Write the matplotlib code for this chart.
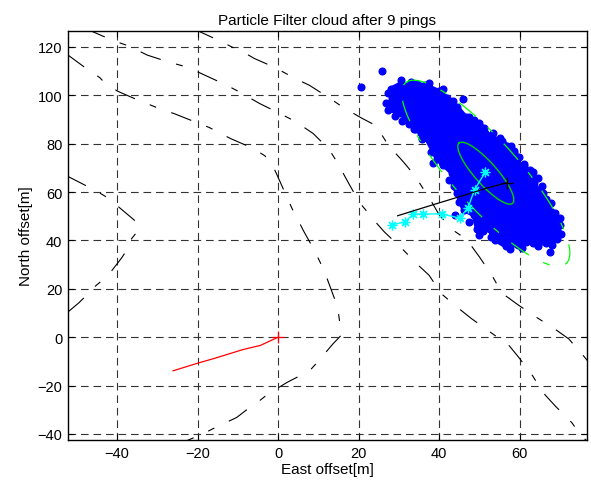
import matplotlib
matplotlib.use('Agg')
import matplotlib.pyplot as plt
import numpy as np

plt.rcParams['font.family'] = ['Liberation Sans', 'DejaVu Sans']
plt.rcParams['lines.scale_dashes'] = False

# terrain contours (east, north) [m]
c1_x = [-48.0, -46.5, -41.4, -37.7, -36.0, -32.5, -27.3, -23.6, -21.7, -18.2, -13.1, -9.5, -8.2,
        -4.6, 0.4, 3.9, 5.5, 8.7, 12.6, 14.8, 15.6, 17.5, 20.2, 22.8, 23.9, 26.4, 30.6, 33.4,
        34.6, 37.5, 40.6, 43.7, 45.0, 48.1, 52.7, 55.9, 57.4, 59.9, 63.2, 65.3, 66.4, 69.0,
        73.0, 75.3, 77.0]
c1_y = [127.5, 126.6, 122.9, 120.7, 119.5, 116.6, 113.8, 112.1, 111.0, 108.3, 104.4, 101.3, 100.0,
        96.6, 92.5, 89.5, 87.8, 84.2, 77.8, 72.0, 69.5, 63.7, 55.7, 50.5, 48.2, 43.5, 36.9, 32.2,
        30.1, 25.6, 17.9, 13.5, 11.7, 7.6, 2.1, -1.7, -3.5, -8.6, -15.9, -21.5, -24.0, -28.7,
        -35.4, -40.8, -43.3]

c2_x = [-52.5, -47.6, -44.3, -43.1, -39.9, -34.8, -31.0, -29.4, -25.8, -20.5, -17.0, -15.3, -11.8,
        -8.5, -6.5, -3.4, -1.9, -0.3, 2.0, 3.6, 4.5, 6.3, 9.0, 10.7, 11.5, 12.8, 14.8, 15.3,
        16.0, 15.8, 13.6, 10.1, 7.6, 5.7, 2.2, -2.6, -5.7, -7.1, -10.3, -15.3, -19.0, -19.9,
        -23.0]
c2_y = [117.0, 111.0, 107.3, 105.2, 101.7, 98.0, 95.5, 94.4, 92.4, 88.9, 86.6, 85.1, 82.1,
        79.7, 78.3, 75.1, 73.0, 67.2, 58.6, 52.7, 49.9, 44.0, 35.9, 30.1, 27.2, 21.4, 12.4, 6.2,
        3.4, 1.0, -2.8, -9.7, -14.3, -15.7, -18.7, -23.6, -27.7, -29.1, -33.2, -37.1, -40.2, -40.8,
        -43.0]

c3_x = [-52.5, -47.1, -43.9, -42.2, -39.3, -34.8, -34.6, -36.4, -36.8, -38.9, -42.2, -45.4, -46.8,
        -49.5, -52.5]
c3_y = [66.7, 62.1, 59.2, 57.5, 53.4, 47.1, 44.5, 40.7, 38.0, 32.7, 25.6, 21.1, 18.6,
        14.2, 10.0]

c4_x = [-21.0, -19.9, -14.5, -10.7, -8.7, -5.9, -0.7, 2.6, 4.3, 7.8, 12.6, 15.9, 17.3, 20.6, 24.6,
        25.2, 27.3, 28.3, 31.0, 34.1, 36.7, 37.6, 40.0, 43.3, 46.6, 47.6, 50.0, 53.1, 55.1, 56.2,
        59.5, 64.1, 67.4, 68.9, 72.2, 75.7, 77.0]
c4_y = [127.5, 126.6, 122.5, 119.3, 117.9, 115.2, 111.4, 108.4, 106.9, 104.1, 99.0, 95.3, 93.9,
        90.7, 87.2, 85.1, 79.6, 77.6, 72.7, 66.5, 59.6, 57.5, 50.6, 44.4, 40.7, 38.7, 33.2, 25.6,
        19.7, 17.5, 13.5, 8.3, 4.8, 3.2, -0.7, -7.4, -10.0]

contours = [(c1_x, c1_y), (c2_x, c2_y), (c3_x, c3_y), (c4_x, c4_y)]

# particle cloud: outline of the dense core, particles on its rim and strays
core_x = [28.1, 30.5, 32.1, 34.5, 36.6, 39.9, 42.0, 44.5, 46.6, 48.6, 51.1, 52.4, 55.7, 56.9,
          59.2, 60.5, 63.4, 63.6, 64.8, 66.6, 66.9, 68.8, 69.2, 69.2, 66.5, 63.2, 61.6, 59.7,
          56.6, 54.0, 52.8, 49.5, 48.6, 46.1, 44.5, 43.7, 43.2, 39.5, 36.6, 34.1, 30.4, 27.3,
          28.3]
core_y = [102.7, 104.8, 103.8, 104.5, 104.1, 101.7, 99.0, 95.0, 91.0, 89.8, 86.6, 83.1, 81.0, 79.2,
          73.0, 69.0, 68.3, 63.7, 60.2, 57.1, 54.0, 51.3, 44.4, 40.4, 38.9, 38.9, 39.4, 38.2,
          37.6, 40.2, 44.2, 44.6, 50.6, 52.7, 59.6, 62.3, 67.9, 73.7, 83.1, 85.9, 92.8, 94.1,
          99.0]
rim_x = [33.0, 37.5, 41.0, 43.5, 47.5, 50.0, 53.5, 57.8, 58.5, 61.0, 62.5, 65.5, 67.8, 70.0,
         70.2, 68.0, 64.5, 60.5, 57.5, 53.0, 51.0, 47.5, 45.0, 42.5, 41.0, 38.0, 35.8, 32.5,
         29.0, 26.8, 27.3, 29.5, 35.5, 40.5, 49.5, 55.0, 59.8, 65.8, 44.0, 38.5]
rim_y = [105.6, 105.2, 102.6, 97.6, 91.2, 88.6, 84.2, 79.1, 76.0, 70.6, 69.1, 62.6, 55.6, 49.1,
         42.6, 38.2, 37.8, 36.9, 36.4, 41.6, 44.0, 47.6, 56.0, 65.0, 71.0, 76.6, 81.8, 88.0,
         91.6, 96.8, 101.0, 95.5, 84.5, 78.5, 86.0, 82.5, 74.5, 59.5, 50.5, 72.0]
stray_x = [25.9, 20.6, 45.9, 30.5, 67.5, 28.6, 30.8, 33.7, 50.0, 55.8, 70.0, 58.5, 61.2, 64.6]
stray_y = [110.0, 103.4, 98.3, 106.3, 35.2, 99.0, 89.3, 85.9, 42.2, 40.7, 46.5, 77.0, 71.5, 66.0]

# 1-sigma ellipse of the cloud (centre and conjugate half axes)
ell_c = (51.6, 67.8)
ell_a = (-6.65, 12.45)
ell_b = (2.05, 3.03)
sigmas = [1, 3]

# track of pings
ping_x = [28.3, 31.4, 33.6, 36.0, 40.6, 45.1, 47.2, 48.8, 51.5]
ping_y = [46.4, 47.6, 50.9, 50.9, 51.0, 49.2, 53.6, 61.0, 68.3]

est_x = [29.7, 38.0, 45.3, 52.0, 56.8]
est_y = [50.2, 54.5, 58.2, 61.7, 63.8]

ship_x = [-26.1, -19.9, -15.7, -8.7, -4.4, 0.0]
ship_y = [-13.9, -10.7, -8.7, -5.1, -3.4, 0.0]

contour_dash = (0, (15.5, 11.5, 5.0, 11.5))

fig = plt.figure(figsize=(5.91, 4.85), dpi=100)
ax = fig.add_axes([0.115, 0.0907, 0.878, 0.843])

for cx, cy in contours:
    ax.plot(cx, cy, color='k', lw=0.8, linestyle=contour_dash, zorder=2)

ax.fill(core_x, core_y, facecolor='#0000ff', edgecolor='#0000ff', lw=3.4,
        joinstyle='round', zorder=3)
ax.plot(core_x + rim_x + stray_x, core_y + rim_y + stray_y, 'o', color='#0000ff',
        ms=4.8, zorder=3)

t = np.linspace(0, 2 * np.pi, 200)
for s in sigmas:
    ex = ell_c[0] + s * (ell_a[0] * np.cos(t) + ell_b[0] * np.sin(t))
    ey = ell_c[1] + s * (ell_a[1] * np.cos(t) + ell_b[1] * np.sin(t))
    if s == 1:
        ax.plot(ex, ey, color='#00d000', lw=1.0, zorder=4)
    else:
        ax.plot(ex, ey, color='#00ff00', lw=0.9, linestyle=contour_dash, zorder=4)

ax.plot(ping_x, ping_y, '-', color='#00ffff', lw=1.0, zorder=5)
ax.plot(ping_x, ping_y, linestyle='none', marker=(8, 2, 0), color='#00ffff', ms=7,
        mew=0.9, zorder=5)
ax.plot(est_x, est_y, color='k', lw=0.9, zorder=6)
ax.plot(est_x[-1], est_y[-1], '+', color='k', ms=8, mew=0.9, zorder=6)
ax.plot(ship_x, ship_y, color='#ff0000', lw=0.9, zorder=5)
ax.plot(0, 0, '+', color='#ff0000', ms=8, mew=0.9, zorder=5)

ax.set_xlim(-52.2, 76.7)
ax.set_ylim(-42.5, 126.5)
ax.set_xticks([-40, -20, 0, 20, 40, 60])
ax.set_yticks([-40, -20, 0, 20, 40, 60, 80, 100, 120])
ax.grid(True, color='#333333', lw=0.8, linestyle=(0, (5.5, 3.5)))
ax.set_axisbelow(True)
ax.tick_params(direction='in', top=True, right=True, length=4, labelsize=10.5,
               width=0.8, pad=4)
for sp in ax.spines.values():
    sp.set_linewidth(1.0)

ax.set_title('Particle Filter cloud after 9 pings', fontsize=11, pad=5)
ax.set_xlabel('East offset[m]', fontsize=11, labelpad=2)
ax.set_ylabel('North offset[m]', fontsize=11, labelpad=3)

fig.savefig('out.png', dpi=100)
